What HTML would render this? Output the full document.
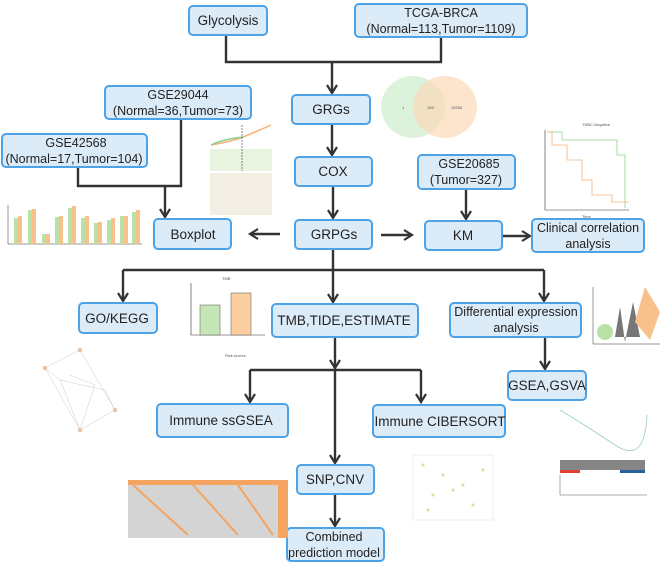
<!DOCTYPE html>
<html><head><meta charset="utf-8"><style>
body{margin:0;background:#fff;width:661px;height:562px;overflow:hidden}
svg{display:block}
.b{fill:#dcebf8;stroke:#4ea2e6;stroke-width:2}
.t{font-family:"Liberation Sans",sans-serif;font-size:13.5px;fill:#222;text-anchor:middle}
.t2{font-family:"Liberation Sans",sans-serif;font-size:12.5px;fill:#222;text-anchor:middle}
.l{stroke:#333;stroke-width:2.4;fill:none}
.s{font-family:"Liberation Sans",sans-serif;font-size:4px;fill:#555}
</style></head><body>
<svg width="661" height="562" viewBox="0 0 661 562">
<defs>
<marker id="a" markerWidth="12" markerHeight="12" refX="9" refY="6" orient="auto" markerUnits="userSpaceOnUse">
<path d="M1,1 L9,6 L1,11" fill="none" stroke="#333" stroke-width="2.2"/></marker>
</defs>
<path class="l" d="M226,35 V62 H441 V37"/>
<path class="l" d="M332,62 V93" marker-end="url(#a)"/>
<path class="l" d="M332,123 V155" marker-end="url(#a)"/>
<path class="l" d="M333,186 V218" marker-end="url(#a)"/>
<path class="l" d="M78,167 V186 H181 V119"/>
<path class="l" d="M165,186 V217" marker-end="url(#a)"/>
<path class="l" d="M280,234 H250" marker-end="url(#a)"/>
<path class="l" d="M381,235 H412" marker-end="url(#a)"/>
<path class="l" d="M466,189 V219" marker-end="url(#a)"/>
<path class="l" d="M502,236 H530" marker-end="url(#a)"/>
<path class="l" d="M333,249 V270 M123,270 H544"/>
<path class="l" d="M123,270 V301" marker-end="url(#a)"/>
<path class="l" d="M333,270 V302" marker-end="url(#a)"/>
<path class="l" d="M544,270 V301" marker-end="url(#a)"/>
<path class="l" d="M335,337 V368" marker-end="url(#a)"/>
<path class="l" d="M250,370 H421"/>
<path class="l" d="M250,370 V402" marker-end="url(#a)"/>
<path class="l" d="M421,370 V402" marker-end="url(#a)"/>
<path class="l" d="M335,370 V463" marker-end="url(#a)"/>
<path class="l" d="M545,337 V369" marker-end="url(#a)"/>
<path class="l" d="M335,494 V526" marker-end="url(#a)"/>
<rect class="b" x="189" y="6" width="78" height="29" rx="4"/><text class="t" x="228" y="25">Glycolysis</text>
<rect class="b" x="355" y="4" width="172" height="33" rx="4"/><text class="t2" x="441" y="17">TCGA-BRCA</text><text class="t2" x="441" y="33">(Normal=113,Tumor=1109)</text>
<rect class="b" x="292" y="95" width="78" height="29" rx="4"/><text class="t" x="331" y="114">GRGs</text>
<rect class="b" x="105" y="86" width="146" height="33" rx="4"/><text class="t2" x="178" y="99">GSE29044</text><text class="t2" x="178" y="115">(Normal=36,Tumor=73)</text>
<rect class="b" x="2" y="134" width="145" height="33" rx="4"/><text class="t2" x="76" y="147">GSE42568</text><text class="t2" x="74" y="163">(Normal=17,Tumor=104)</text>
<rect class="b" x="295" y="157" width="77" height="29" rx="4"/><text class="t" x="333" y="176">COX</text>
<rect class="b" x="418" y="155" width="97" height="34" rx="4"/><text class="t2" x="469" y="168">GSE20685</text><text class="t2" x="466" y="184">(Tumor=327)</text>
<rect class="b" x="295" y="220" width="77" height="29" rx="4"/><text class="t" x="334" y="239">GRPGs</text>
<rect class="b" x="154" y="219" width="77" height="30" rx="4"/><text class="t" x="193" y="239">Boxplot</text>
<rect class="b" x="425" y="221" width="77" height="29" rx="4"/><text class="t" x="463" y="240">KM</text>
<rect class="b" x="532" y="219" width="112" height="33" rx="4"/><text class="t2" x="588" y="232">Clinical correlation</text><text class="t2" x="588" y="248">analysis</text>
<rect class="b" x="79" y="303" width="78" height="30" rx="4"/><text class="t" x="117" y="323">GO/KEGG</text>
<rect class="b" x="272" y="304" width="146" height="33" rx="4"/><text class="t" x="344" y="325">TMB,TIDE,ESTIMATE</text>
<rect class="b" x="450" y="303" width="131" height="34" rx="4"/><text class="t2" x="516" y="316">Differential expression</text><text class="t2" x="516" y="332">analysis</text>
<rect class="b" x="508" y="371" width="78" height="29" rx="4"/><text class="t" x="547" y="390">GSEA,GSVA</text>
<rect class="b" x="157" y="404" width="131" height="33" rx="4"/><text class="t" x="221" y="425">Immune ssGSEA</text>
<rect class="b" x="373" y="405" width="132" height="32" rx="4"/><text class="t" x="440" y="426">Immune CIBERSORT</text>
<rect class="b" x="297" y="465" width="77" height="29" rx="4"/><text class="t" x="335" y="484">SNP,CNV</text>
<rect class="b" x="287" y="528" width="97" height="33" rx="4"/><text class="t2" x="334" y="541">Combined</text><text class="t2" x="334" y="557">prediction model</text>
<ellipse cx="413" cy="107" rx="32" ry="31" fill="#cfeccb" opacity=".7"/>
<ellipse cx="445" cy="107" rx="32" ry="31" fill="#fbd9b8" opacity=".7"/>
<text class="s" x="402" y="109">1</text><text class="s" x="427" y="109">169</text><text class="s" x="451" y="109">19258</text>
<g transform="translate(203,125)">
<path d="M8,20 Q30,16 40,12 T68,0" stroke="#f4b27a" fill="none" stroke-width="1.5"/>
<path d="M8,20 Q20,14 40,12" stroke="#8fd08a" fill="none" stroke-width="1.5"/>
<rect x="7" y="24" width="62" height="22" fill="#e8f3e0"/>
<rect x="7" y="48" width="62" height="42" fill="#f3eee4"/>
<line x1="39" y1="0" x2="39" y2="46" stroke="#333" stroke-dasharray="2,1" stroke-width=".6"/>
</g>
<g transform="translate(537,120)">
<text class="s" x="45" y="6">TNBC-Negative</text>
<path d="M8,10 V90 H92" stroke="#333" fill="none" stroke-width=".6"/>
<path d="M10,12 H25 V20 H80 V35 H88 V88" stroke="#8fd08a" fill="none" stroke-width=".8"/>
<path d="M10,12 H15 V25 H30 V40 H45 V60 H55 V75 H75 V82 H92" stroke="#f4b27a" fill="none" stroke-width=".8"/>
<text class="s" x="45" y="98">Time</text>
</g>
<g transform="translate(2,200)">
<path d="M6,5 V44 H140" stroke="#333" fill="none" stroke-width=".5"/>
<g fill="#b9e0a5"><rect x="12" y="18" width="4" height="26"/><rect x="26" y="10" width="4" height="34"/><rect x="40" y="34" width="4" height="10"/><rect x="53" y="17" width="4" height="27"/><rect x="66" y="8" width="4" height="36"/><rect x="79" y="18" width="4" height="26"/><rect x="92" y="23" width="4" height="21"/><rect x="105" y="20" width="4" height="24"/><rect x="118" y="16" width="4" height="28"/><rect x="130" y="12" width="4" height="32"/></g>
<g fill="#f8c08a"><rect x="16" y="16" width="4" height="28"/><rect x="30" y="9" width="4" height="35"/><rect x="44" y="34" width="4" height="10"/><rect x="57" y="16" width="4" height="28"/><rect x="70" y="6" width="4" height="38"/><rect x="83" y="16" width="4" height="28"/><rect x="96" y="22" width="4" height="22"/><rect x="109" y="18" width="4" height="26"/><rect x="122" y="16" width="4" height="28"/><rect x="134" y="10" width="4" height="34"/></g>
</g>
<g transform="translate(175,275)">
<text class="s" x="47" y="5">TMB</text>
<path d="M16,8 V60 H90" stroke="#333" fill="none" stroke-width=".6"/>
<rect x="25" y="30" width="20" height="30" fill="#c6e6b8" stroke="#555" stroke-width=".5"/>
<rect x="56" y="18" width="20" height="42" fill="#fbcf9f" stroke="#555" stroke-width=".5"/>
<text class="s" x="50" y="82">Risk scores</text>
</g>
<g transform="translate(35,345)" stroke="#ccc" stroke-width=".5" fill="none">
<path d="M45,5 L10,23 L25,35 L70,45 L80,65 L45,85 L10,23 M45,5 L80,65 M25,35 L45,85 M35,30 L60,40 L45,85"/>
<circle cx="45" cy="5" r="2" fill="#f8c08a"/><circle cx="10" cy="23" r="2" fill="#f8c08a"/><circle cx="80" cy="65" r="2" fill="#f8c08a"/><circle cx="45" cy="85" r="2" fill="#f8c08a"/>
</g>
<g transform="translate(128,455)">
<rect x="0" y="25" width="150" height="58" fill="#d4d4d4"/>
<rect x="0" y="25" width="150" height="5" fill="#f4a460"/>
<rect x="150" y="25" width="10" height="58" fill="#f4a460"/>
<path d="M5,30 L60,80 M65,30 L110,80 M110,30 L145,80" stroke="#f4a460" stroke-width="2" fill="none"/>
</g>
<g transform="translate(413,455)" fill="#e6d9a0">
<rect x="0" y="0" width="80" height="65" fill="none" stroke="#ddd" stroke-width=".5"/>
<g><circle cx="10" cy="10" r="1.5"/><circle cx="30" cy="20" r="1.5"/><circle cx="50" cy="30" r="1.5"/><circle cx="20" cy="40" r="1.5"/><circle cx="60" cy="50" r="1.5"/><circle cx="40" cy="35" r="1.5"/><circle cx="70" cy="15" r="1.5"/><circle cx="15" cy="55" r="1.5"/></g>
</g>
<g transform="translate(585,282)">
<path d="M8,5 V62 H75" stroke="#333" fill="none" stroke-width=".5"/>
<ellipse cx="20" cy="50" rx="8" ry="8" fill="#b9e0a5"/>
<path d="M30,55 L35,25 L40,60 L48,20 L55,55Z" fill="#777"/>
<path d="M50,40 L60,5 L75,30 L65,58Z" fill="#f8c08a"/>
</g>
<g transform="translate(555,405)">
<path d="M5,5 Q30,20 60,40 T92,10" stroke="#9cc" fill="none" stroke-width=".8"/>
<rect x="5" y="55" width="85" height="10" fill="#333" opacity=".6"/>
<rect x="5" y="65" width="20" height="3" fill="#e04030"/><rect x="65" y="65" width="25" height="3" fill="#2a5fa0"/>
<path d="M5,70 V90 H92" stroke="#333" fill="none" stroke-width=".4"/>
</g>
</svg>
</body></html>
